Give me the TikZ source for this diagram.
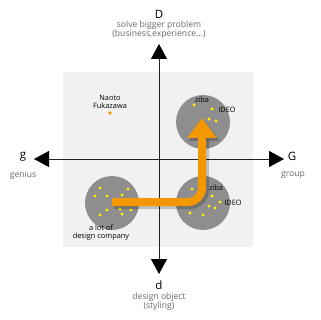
\documentclass[tikz,border=0pt]{standalone}
\usepackage{fontspec}
\setmainfont{Open Sans}
\usetikzlibrary{arrows.meta}
\definecolor{bgpanel}{HTML}{F1F1F1}
\definecolor{blob}{HTML}{8E8E8E}
\definecolor{orng}{HTML}{F39800}
\definecolor{yel}{HTML}{FFF000}
\definecolor{subtxt}{HTML}{6A6A6A}
\definecolor{axis}{HTML}{222222}
\tikzset{
  axisline/.style={draw=axis, line width=0.9pt, -{Triangle[width=16pt,length=15pt,color=black]}},
  bigletter/.style={font=\fontsize{11.5}{12}\selectfont, text=black, inner sep=0pt},
  sub/.style={font=\fontsize{8.6}{9.2}\selectfont, text=subtxt, inner sep=0pt, align=center},
  small/.style={font=\fontsize{7.4}{8}\selectfont, text=black, inner sep=0pt, align=center},
  group/.style={circle, fill=blob, minimum size=54pt, inner sep=0pt},
  ydot/.style={circle, fill=yel, minimum size=3.4pt, inner sep=0pt},
}
\begin{document}
\begin{tikzpicture}[x=1pt,y=-1pt]
\useasboundingbox (0,0) rectangle (320,320);
\fill[white] (0,0) rectangle (320,320);
% panel
\fill[bgpanel] (63,72) rectangle (253,247);
% groups
\node[group] (bl) at (112,203) {};
\node[group] (tr) at (203,122) {};
\node[group] (br) at (203,203) {};
% axes
\coordinate (top) at (159,44);
\coordinate (bot) at (159,274);
\coordinate (lft) at (34,159);
\coordinate (rgt) at (284,159);
\coordinate (ctr) at (159,159);
\draw[axisline] (ctr) -- (top);
\draw[axisline] (ctr) -- (bot);
\draw[axisline] (ctr) -- (lft);
\draw[axisline] (ctr) -- (rgt);
% axis labels
\node[bigletter] (Dl) at (159,14) {D};
\node[sub] (Ds) at (159,30) {solve bigger problem\\(business,experience...)};
\node[bigletter] (gl) at (23,157) {g};
\node[sub] (gs) at (23,175) {genius};
\node[bigletter] (Gl) at (292,156) {G};
\node[sub] (Gs) at (293,175) {group};
\node[bigletter] (dl) at (159,285) {d};
\node[sub] (ds) at (159,302) {design object\\(styling)};
% Naoto
\node[small] (nf) at (110,102) {Naoto\\Fukazawa};
\node[circle, fill=orng, minimum size=3.8pt, inner sep=0pt] (nfd) at (110,113) {};
% dots bottom-left
\foreach \p in {(100,188),(95,196),(107,196),(122,195),(128,189),(107,210),(120,209),(131,210),(122,214),(100,215)}
  \node[ydot] at \p {};
\node[small] (blt) at (101,233) {a lot of\\design company};
% dots top-right
\foreach \p in {(194,105),(212,109),(209,119),(216,121)}
  \node[ydot] at \p {};
\node[small] (z1) at (202,100) {ziba};
\node[small] (i1) at (227,110) {IDEO};
% dots bottom-right
\foreach \p in {(192,189),(212,196),(220,202),(209,206),(215,208),(190,213),(203,215)}
  \node[ydot] at \p {};
\node[small] (z2) at (216,188) {ziba};
\node[small] (i2) at (233,203) {IDEO};
% orange arrow with shadow
\coordinate (as) at (112,202);
\coordinate (ae) at (202,118);
\coordinate (ass) at (114,204);
\coordinate (aes) at (204,120);
\draw[black, opacity=0.2, line width=10pt, rounded corners=14pt, -{Triangle[width=30pt,length=21pt]}] (ass) -| (aes);
\draw[orng, line width=8pt, rounded corners=14pt, -{Triangle[width=28pt,length=20pt]}] (as) -| (ae);
\end{tikzpicture}
\end{document}
